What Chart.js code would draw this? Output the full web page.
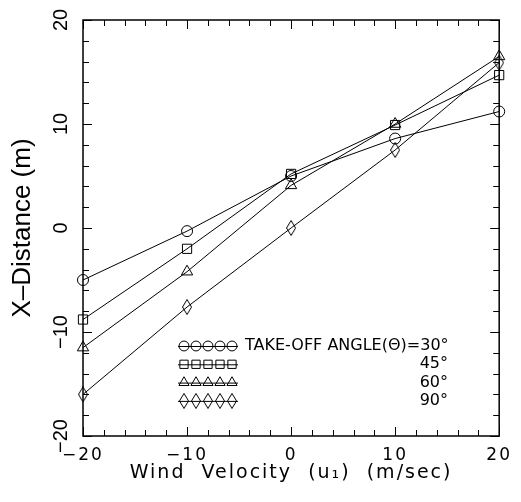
<!DOCTYPE html>
<html>
<head>
<meta charset="utf-8">
<script src="https://cdn.jsdelivr.net/npm/chart.js@4.4.1/dist/chart.umd.min.js"></script>
<style>
  html, body { margin: 0; padding: 0; background: #fff; }
  canvas { display: block; }
</style>
</head>
<body>
<canvas id="chart" width="521" height="502"></canvas>
<script>
// values
const windVelocity = [-20, -10, 0, 10, 20];
const angle30 = [-5.0, -0.3, 5.0, 8.6, 11.2];
const angle45 = [-8.8, -2.0, 5.2, 9.9, 14.7];
const angle60 = [-11.5, -4.2, 4.1, 10.0, 16.5];
const angle90 = [-16.0, -7.6, 0.0, 7.5, 15.9];
const legendLabels = ['TAKE-OFF ANGLE(\u0398)=30\u00b0', '45\u00b0', '60\u00b0', '90\u00b0'];
const axisMin = -20;
const axisMax = 20;

// tall thin diamond marker
function makeDiamond() {
    const c = document.createElement('canvas');
    c.width = 10;
    c.height = 16;
    const g = c.getContext('2d');
    g.strokeStyle = '#000';
    g.lineWidth = 1;
    g.beginPath();
    g.moveTo(5, 0.5);
    g.lineTo(9.5, 8);
    g.lineTo(5, 15.5);
    g.lineTo(0.5, 8);
    g.closePath();
    g.stroke();
    return c;
}
const diamond = makeDiamond();

const markers = [
    { style: 'circle', radius: 5.5 },
    { style: 'rect', radius: 6.5 },
    { style: 'triangle', radius: 6.5 },
    { style: diamond, radius: 6 }
];
const series = [angle30, angle45, angle60, angle90];

const datasets = series.map((values, i) => ({
    label: legendLabels[i],
    data: windVelocity.map((x, j) => ({ x: x, y: values[j] })),
    showLine: true,
    borderColor: '#000',
    borderWidth: 1,
    pointStyle: markers[i].style,
    pointRadius: markers[i].radius,
    pointHoverRadius: markers[i].radius,
    pointBorderColor: '#000',
    pointBorderWidth: 1,
    pointBackgroundColor: 'rgba(0,0,0,0)',
    clip: false
}));

const minus = v => (v < 0 ? '\u2212' + Math.abs(v) : String(v));

// white page, wider letter spacing for the x axis texts only
const spacing = {
    id: 'spacing',
    beforeDraw(chart) {
        const ctx = chart.ctx;
        ctx.save();
        ctx.fillStyle = '#fff';
        ctx.fillRect(0, 0, chart.width, chart.height);
        ctx.restore();
        ctx.letterSpacing = '2px';
    },
    beforeDatasetsDraw(chart) {
        chart.ctx.letterSpacing = '0px';
    }
};

// box frame with inward ticks on every side
const frame = {
    id: 'frame',
    afterDraw(chart) {
        const ctx = chart.ctx;
        const a = chart.chartArea;
        const xs = chart.scales.x;
        const ys = chart.scales.y;
        ctx.save();
        ctx.strokeStyle = '#000';
        ctx.lineWidth = 1;
        ctx.beginPath();
        for (let v = axisMin; v <= axisMax; v += 2) {
            const len = v % 10 === 0 ? 9 : 6;
            const px = Math.round(xs.getPixelForValue(v)) + 0.5;
            ctx.moveTo(px, a.bottom);
            ctx.lineTo(px, a.bottom - len);
            ctx.moveTo(px, a.top);
            ctx.lineTo(px, a.top + len);
            const py = Math.round(ys.getPixelForValue(v)) + 0.5;
            ctx.moveTo(a.left, py);
            ctx.lineTo(a.left + len, py);
            ctx.moveTo(a.right, py);
            ctx.lineTo(a.right - len, py);
        }
        ctx.stroke();
        ctx.lineWidth = 1.5;
        ctx.strokeRect(a.left, a.top, a.right - a.left, a.bottom - a.top);
        ctx.restore();
    }
};

// legend drawn inside the plot, five markers per row
const angleLegend = {
    id: 'angleLegend',
    afterDraw(chart) {
        const ctx = chart.ctx;
        ctx.save();
        ctx.letterSpacing = '0px';
        ctx.strokeStyle = '#000';
        ctx.fillStyle = 'rgba(0,0,0,0)';
        ctx.lineWidth = 1;
        const x0 = 178, step = 12, rowTop = 346, rowGap = 18.3;
        chart.data.datasets.forEach((ds, i) => {
            const y = rowTop + i * rowGap;
            ctx.beginPath();
            ctx.moveTo(x0, y + 0.5);
            ctx.lineTo(x0 + step * 5, y + 0.5);
            ctx.stroke();
            for (let k = 0; k < 5; k++) {
                Chart.helpers.drawPoint(ctx, {
                    pointStyle: ds.pointStyle,
                    radius: ds.pointRadius * 0.9,
                    rotation: 0,
                    borderWidth: 1
                }, x0 + step / 2 + k * step, y);
            }
            ctx.fillStyle = '#000';
            ctx.font = '16px "DejaVu Sans"';
            ctx.textBaseline = 'middle';
            if (i === 0) {
                ctx.textAlign = 'left';
                ctx.fillText(ds.label, 245, y);
            } else {
                ctx.textAlign = 'right';
                ctx.fillText(ds.label, 448, y);
            }
            ctx.fillStyle = 'rgba(0,0,0,0)';
        });
        ctx.restore();
    }
};

new Chart(document.getElementById('chart'), {
    type: 'scatter',
    data: { datasets: datasets },
    options: {
        responsive: false,
        animation: false,
        events: [],
        layout: { padding: { top: 20, right: 15, left: 0, bottom: 0 } },
        plugins: { legend: { display: false }, tooltip: { enabled: false } },
        scales: {
            x: {
                type: 'linear',
                min: axisMin,
                max: axisMax,
                grid: { display: false, drawTicks: false },
                border: { display: false },
                ticks: {
                    stepSize: 10,
                    color: '#000',
                    padding: 11,
                    font: { family: '"DejaVu Sans"', size: 17, lineHeight: 1 },
                    callback: minus
                },
                title: {
                    display: true,
                    text: 'Wind  Velocity  (u\u2081)  (m/sec)',
                    color: '#000',
                    font: { family: '"DejaVu Sans"', size: 19, lineHeight: 1 },
                    padding: { top: 0, bottom: 19 }
                },
                afterFit(s) { s.height = 66; }
            },
            y: {
                type: 'linear',
                min: axisMin,
                max: axisMax,
                grid: { display: false, drawTicks: false, z: 1 },
                border: { display: false, z: 1 },
                ticks: {
                    stepSize: 10,
                    color: '#000',
                    padding: 5,
                    minRotation: 90,
                    maxRotation: 90,
                    crossAlign: 'center',
                    autoSkip: false,
                    z: 1,
                    font: { family: '"Liberation Sans"', size: 20, lineHeight: 1 },
                    callback: minus
                },
                title: {
                    display: true,
                    text: 'X\u2013Distance (m)',
                    color: '#000',
                    font: { family: '"Liberation Sans"', size: 26, lineHeight: 1 },
                    padding: { top: 10, bottom: 0 }
                },
                afterFit(s) { s.width = 83; }
            }
        }
    },
    plugins: [spacing, frame, angleLegend]
});
</script>
</body>
</html>
